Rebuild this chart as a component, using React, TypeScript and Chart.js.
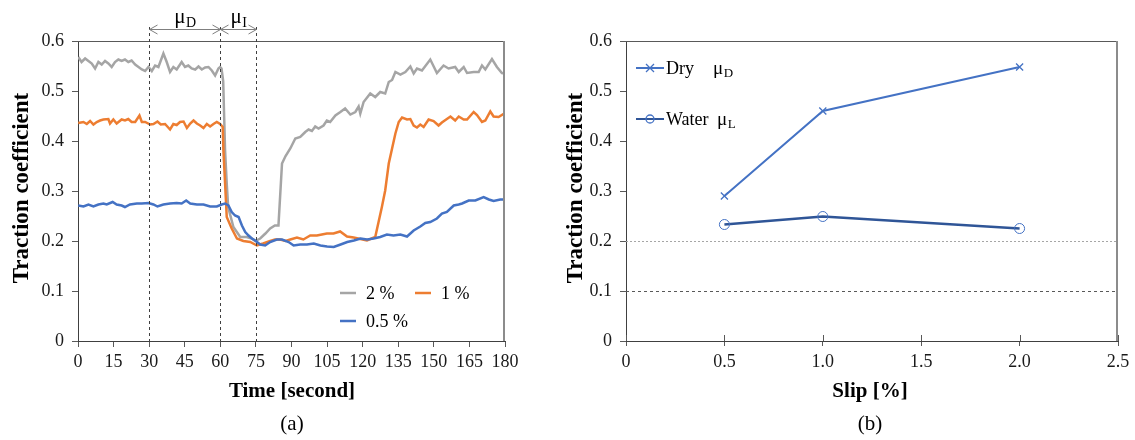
import React, { useEffect, useRef } from "react";
import { Chart, registerables } from "chart.js";
Chart.register(...registerables);

const FONT = '"Liberation Serif", "Times New Roman", serif';
const TXT = "#1a1a1a";

// ---- Panel (a): traction coefficient vs time ----
const TIME_2PCT = [
  0.1, 1.5, 3, 4.4, 5.8, 7.2, 8.6, 10, 11.4, 12.8, 14.2, 15.6, 17, 18.4, 19.8, 21.2, 22.6, 24.1, 25.5, 26.9,
  28.3, 29.7, 31.1, 32.5, 33.9, 36, 37.4, 38.8, 40.2, 41.6, 43.7, 45.1, 46.5, 47.9, 49.4, 50.8, 52.2, 53.6,
  55, 56.4, 57.8, 59.2, 59.9,
  60.5, 61.2, 62, 62.7, 63.3, 65.5, 68.4, 71, 73.3, 74.7, 76.8, 79, 81, 83, 84.5, 86, 87.5, 89.5, 91.6, 93.7,
  95.8, 97.2, 98.6, 100, 101.4, 103.5, 104.9, 106.3, 108.5, 110.6, 112.6, 114.8, 116.9, 118.3, 119, 120.4,
  123.2, 125.3, 127.4, 129.5, 131, 132.4, 133.8, 135.9, 138, 140.1, 141.5, 142.9, 145, 148.5, 151.3, 154.1,
  156.2, 159, 160.5, 162.6, 164, 166.8, 168.9, 170.3, 171.7, 174.5, 176.6, 178.7, 180,
];
const SLIP_2PCT = [
  0.568, 0.558, 0.565, 0.56, 0.555, 0.545, 0.558, 0.553, 0.56, 0.555, 0.548, 0.558, 0.563, 0.56, 0.563, 0.558,
  0.561, 0.553, 0.548, 0.543, 0.54, 0.548, 0.54, 0.551, 0.548, 0.575, 0.558, 0.538, 0.548, 0.543, 0.558, 0.548,
  0.551, 0.545, 0.543, 0.549, 0.543, 0.547, 0.548, 0.541, 0.531, 0.545, 0.548,
  0.545, 0.52, 0.381, 0.315, 0.268, 0.228, 0.208, 0.208, 0.205, 0.2, 0.205, 0.215, 0.225, 0.231, 0.231, 0.355,
  0.37, 0.385, 0.405, 0.408, 0.418, 0.423, 0.42, 0.429, 0.425, 0.431, 0.441, 0.438, 0.451, 0.458, 0.465, 0.453,
  0.458, 0.469, 0.455, 0.478, 0.495, 0.488, 0.498, 0.495, 0.518, 0.522, 0.538, 0.533, 0.538, 0.549, 0.535,
  0.545, 0.541, 0.563, 0.536, 0.551, 0.545, 0.548, 0.538, 0.548, 0.536, 0.538, 0.538, 0.551, 0.543, 0.564,
  0.548, 0.536, 0.535,
];

const TIME_1PCT = [
  0.1, 2.3, 3.7, 5.1, 6.5, 7.9, 9.3, 10.7, 12.8, 13.5, 14.9, 16.3, 18.4, 19.8, 21.2, 22.6, 24.1, 25.9, 26.9,
  28.3, 30.4, 31.8, 33.5, 34.9, 36.7, 38.8, 40.2, 41.6, 43, 44.5, 45.9, 47.3, 48.7, 50.1, 51.5, 52.9, 54.3,
  55.7, 57.1, 58.5, 59.9,
  61, 61.3, 62, 62.7, 64.8, 67, 69.7, 72.6, 75.4, 78, 81, 83, 85.2, 87.5, 89.5, 92.3, 95, 97.9, 100.7, 102.8,
  104.9, 107.7, 110.5, 113.4, 116.2, 119, 121.8, 125.3, 126.7, 128.1, 129.5, 131, 132.4, 133.8, 135.2, 136.6,
  138.7, 140.1, 141.5, 142.9, 144.3, 145.7, 147.8, 149.9, 152, 153.4, 155.5, 157, 159, 160.5, 162.6, 164,
  166.8, 168.2, 170.3, 171.7, 173.8, 175.2, 177.3, 180,
];
const SLIP_1PCT = [
  0.436, 0.438, 0.434, 0.44, 0.433, 0.438, 0.441, 0.443, 0.444, 0.435, 0.443, 0.435, 0.443, 0.441, 0.444,
  0.438, 0.438, 0.451, 0.438, 0.438, 0.433, 0.434, 0.439, 0.433, 0.434, 0.423, 0.434, 0.432, 0.438, 0.439,
  0.426, 0.435, 0.441, 0.435, 0.431, 0.426, 0.434, 0.429, 0.434, 0.438, 0.434,
  0.428, 0.381, 0.315, 0.248, 0.225, 0.205, 0.2, 0.198, 0.191, 0.195, 0.2, 0.203, 0.203, 0.2, 0.203, 0.207,
  0.203, 0.211, 0.211, 0.213, 0.215, 0.215, 0.219, 0.209, 0.207, 0.204, 0.201, 0.208, 0.238, 0.268, 0.301,
  0.355, 0.385, 0.415, 0.438, 0.447, 0.443, 0.444, 0.431, 0.427, 0.433, 0.428, 0.443, 0.44, 0.431, 0.437,
  0.444, 0.449, 0.441, 0.449, 0.443, 0.443, 0.458, 0.452, 0.438, 0.441, 0.459, 0.449, 0.448, 0.456,
];

const TIME_05PCT = [
  0.1, 2.3, 4.4, 6.5, 8.6, 10.7, 12.1, 14.6, 16.3, 18.4, 19.8, 21.9, 24.8, 26.9, 29.7, 31.8, 33.5, 36, 38.8,
  41.6, 43.7, 45.6, 47.3, 50.1, 52.9, 55.7, 58.5, 60.6,
  62, 63.4, 64.8, 66.2, 67.7, 69.1, 70.5, 71.9, 73.3, 74.7, 76.8, 78.9, 81, 83.8, 86, 88.8, 90.9, 93.7, 96.5,
  99.4, 102.2, 105, 107.8, 110.7, 113.5, 116.3, 119.1, 121.9, 124.6, 127.4, 130.2, 133, 135.9, 138.7, 141.5,
  144.3, 146.4, 148.5, 151.3, 153.4, 155.5, 158.4, 160.5, 161.9, 164.7, 167.5, 171, 173.2, 175.2, 178, 180,
];
const SLIP_05PCT = [
  0.271, 0.269, 0.273, 0.269, 0.273, 0.275, 0.273, 0.278, 0.273, 0.271, 0.268, 0.273, 0.275, 0.275, 0.276,
  0.273, 0.269, 0.273, 0.275, 0.276, 0.275, 0.281, 0.275, 0.273, 0.273, 0.269, 0.269, 0.273,
  0.275, 0.271, 0.258, 0.251, 0.248, 0.231, 0.218, 0.211, 0.205, 0.201, 0.193, 0.191, 0.198, 0.203, 0.203,
  0.198, 0.191, 0.193, 0.193, 0.195, 0.191, 0.189, 0.188, 0.193, 0.198, 0.201, 0.205, 0.203, 0.205, 0.208,
  0.213, 0.211, 0.213, 0.209, 0.221, 0.229, 0.236, 0.238, 0.245, 0.255, 0.258, 0.271, 0.273, 0.275, 0.281,
  0.281, 0.288, 0.283, 0.28, 0.283, 0.283,
];

const PHASE_MARKS = [30, 60, 75];
const LEGEND_A = ["2 %", "1 %", "0.5 %"];
const COLORS_A = ["#A5A5A5", "#ED7D31", "#4472C4"];

// ---- Panel (b): traction coefficient vs slip ----
const SLIP_PCT = [0.5, 1, 2];
const DRY = [0.29, 0.46, 0.548];
const WATER = [0.233, 0.249, 0.225];

const pts = (xs: number[], ys: number[]) => xs.map((x, i) => ({ x, y: ys[i] }));

function seg(ctx: CanvasRenderingContext2D, x1: number, y1: number, x2: number, y2: number) {
  ctx.beginPath();
  ctx.moveTo(x1, y1);
  ctx.lineTo(x2, y2);
  ctx.stroke();
}

function muLabel(ctx: CanvasRenderingContext2D, sub: string, x: number, y: number, size: number, align: "left" | "center") {
  ctx.font = `${size}px ${FONT}`;
  const w1 = ctx.measureText("μ").width;
  ctx.font = `${Math.round(size * 0.68)}px ${FONT}`;
  const w2 = ctx.measureText(sub).width;
  const start = align === "center" ? x - (w1 + w2) / 2 : x;
  ctx.textAlign = "left";
  ctx.textBaseline = "alphabetic";
  ctx.font = `${size}px ${FONT}`;
  ctx.fillText("μ", start, y);
  ctx.font = `${Math.round(size * 0.68)}px ${FONT}`;
  ctx.fillText(sub, start + w1 + 0.5, y + size * 0.18);
}

function frame(ctx: CanvasRenderingContext2D, a: any) {
  ctx.setLineDash([]);
  ctx.strokeStyle = "#595959";
  ctx.lineWidth = 1;
  seg(ctx, a.left, Math.round(a.top) + 0.5, a.right, Math.round(a.top) + 0.5);
  ctx.strokeStyle = "#8c8c8c";
  ctx.lineWidth = 2;
  seg(ctx, a.right - 1, a.top, a.right - 1, a.bottom);
}

function titles(ctx: CanvasRenderingContext2D, yTitle: string, yX: number, xTitle: string, xCenter: number, tag: string) {
  ctx.fillStyle = "#000";
  ctx.textAlign = "center";
  ctx.textBaseline = "middle";
  ctx.font = `bold 23px ${FONT}`;
  ctx.save();
  ctx.translate(yX, 188);
  ctx.rotate(-Math.PI / 2);
  ctx.fillText(yTitle, 0, 0);
  ctx.restore();
  ctx.font = `bold 21px ${FONT}`;
  ctx.fillText(xTitle, xCenter, 392);
  ctx.font = `21px ${FONT}`;
  ctx.fillText(tag, xCenter, 424);
}

const decorA = {
  id: "decorA",
  afterDraw(chart: any) {
    const { ctx, chartArea: a, scales } = chart;
    const x = scales.x;
    ctx.save();
    frame(ctx, a);
    // phase lines
    ctx.strokeStyle = "#404040";
    ctx.lineWidth = 1;
    ctx.setLineDash([3, 3]);
    const px = PHASE_MARKS.map((t) => Math.round(x.getPixelForValue(t)) + 0.5);
    px.forEach((p) => seg(ctx, p, 27, p, a.bottom));
    ctx.setLineDash([]);
    // double arrows
    ctx.strokeStyle = "#7f7f7f";
    const ay = 29.5;
    const arrow = (x1: number, x2: number) => {
      seg(ctx, x1, ay, x2, ay);
      seg(ctx, x1 + 8, ay - 4.5, x1, ay);
      seg(ctx, x1, ay, x1 + 8, ay + 4.5);
      seg(ctx, x2 - 8, ay - 4.5, x2, ay);
      seg(ctx, x2, ay, x2 - 8, ay + 4.5);
    };
    arrow(px[0], px[1]);
    arrow(px[1], px[2]);
    ctx.fillStyle = "#000";
    muLabel(ctx, "D", (px[0] + px[1]) / 2, 23, 21, "center");
    muLabel(ctx, "I", (px[1] + px[2]) / 2, 23, 21, "center");
    // legend
    const items = [
      { x: 340, y: 293, i: 0 },
      { x: 415, y: 293, i: 1 },
      { x: 340, y: 321, i: 2 },
    ];
    ctx.font = `18px ${FONT}`;
    ctx.textAlign = "left";
    ctx.textBaseline = "middle";
    items.forEach(({ x: lx, y: ly, i }) => {
      ctx.strokeStyle = COLORS_A[i];
      ctx.lineWidth = 2.5;
      seg(ctx, lx, ly, lx + 16, ly);
      ctx.fillStyle = "#000";
      ctx.fillText(LEGEND_A[i], lx + 26, ly + 1);
    });
    titles(ctx, "Traction coefficient", 22, "Time [second]", 292, "(a)");
    ctx.restore();
  },
};

const decorB = {
  id: "decorB",
  beforeDatasetsDraw(chart: any) {
    const { ctx, chartArea: a, scales } = chart;
    const y = scales.y;
    ctx.save();
    ctx.lineWidth = 1;
    ctx.strokeStyle = "#a6a6a6";
    ctx.setLineDash([2, 2]);
    const y2 = Math.round(y.getPixelForValue(0.2)) + 0.5;
    seg(ctx, a.left, y2, a.right, y2);
    ctx.strokeStyle = "#595959";
    ctx.setLineDash([3, 3]);
    const y1 = Math.round(y.getPixelForValue(0.1)) + 0.5;
    seg(ctx, a.left, y1, a.right, y1);
    ctx.restore();
  },
  afterDraw(chart: any) {
    const { ctx, chartArea: a, scales } = chart;
    const x = scales.x;
    ctx.save();
    frame(ctx, a);
    // inner tick halves on x axis
    ctx.strokeStyle = "#595959";
    ctx.lineWidth = 1;
    x.ticks.forEach((t: any) => {
      const p = Math.round(x.getPixelForValue(t.value)) + 0.5;
      seg(ctx, p, a.bottom, p, a.bottom - 6);
    });
    // legend
    const lx = 636;
    const entries = [
      { y: 68, label: "Dry", sub: "D", color: "#4472C4", mu: 713, marker: "x" },
      { y: 119, label: "Water", sub: "L", color: "#2F5597", mu: 717, marker: "o" },
    ];
    entries.forEach((e) => {
      const ox = lx - 560;
      ctx.strokeStyle = e.color;
      ctx.lineWidth = 2;
      seg(ctx, ox, e.y, ox + 28, e.y);
      const cx = ox + 14;
      ctx.lineWidth = 1.3;
      ctx.strokeStyle = "#4472C4";
      if (e.marker === "x") {
        seg(ctx, cx - 4, e.y - 4, cx + 4, e.y + 4);
        seg(ctx, cx - 4, e.y + 4, cx + 4, e.y - 4);
      } else {
        ctx.beginPath();
        ctx.arc(cx, e.y, 4, 0, Math.PI * 2);
        ctx.stroke();
      }
      ctx.fillStyle = "#000";
      ctx.font = `18px ${FONT}`;
      ctx.textAlign = "left";
      ctx.textBaseline = "alphabetic";
      ctx.fillText(e.label, ox + 30, e.y + 6);
      muLabel(ctx, e.sub, e.mu - 560, e.y + 6, 19, "left");
    });
    titles(ctx, "Traction coefficient", 16, "Slip [%]", 310, "(b)");
    ctx.restore();
  },
};

function axisOpts(min: number, max: number, step: number, fit: (s: any) => void, tickLen: number, pad: number) {
  return {
    type: "linear" as const,
    min,
    max,
    afterFit: fit,
    ticks: {
      stepSize: step,
      autoSkip: false,
      maxRotation: 0,
      padding: pad,
      color: TXT,
      font: { family: FONT, size: 18 },
    },
    grid: { display: true, drawOnChartArea: false, drawTicks: true, tickLength: tickLen, color: "#595959" },
    border: { display: true, color: "#404040", width: 1 },
    title: { display: false },
  };
}

export default function App() {
  const refA = useRef<HTMLCanvasElement>(null);
  const refB = useRef<HTMLCanvasElement>(null);

  useEffect(() => {
    const ca = new Chart(refA.current!, {
      type: "line",
      data: {
        datasets: [
          { data: pts(TIME_05PCT, SLIP_05PCT), borderColor: COLORS_A[2] },
          { data: pts(TIME_1PCT, SLIP_1PCT), borderColor: COLORS_A[1] },
          { data: pts(TIME_2PCT, SLIP_2PCT), borderColor: COLORS_A[0] },
        ].map((d) => ({ ...d, borderWidth: 2.5, pointRadius: 0, tension: 0, fill: false })),
      },
      options: {
        responsive: false,
        animation: false,
        devicePixelRatio: 1,
        layout: { padding: { top: 41, right: 55, left: 0, bottom: 0 } },
        plugins: { legend: { display: false }, tooltip: { enabled: false } },
        scales: {
          x: axisOpts(0, 180, 15, (s: any) => { s.height = 99; }, 6, 4),
          y: axisOpts(0, 0.6, 0.1, (s: any) => { s.width = 78; }, 6, 8),
        },
      },
      plugins: [decorA],
    } as any);

    const cb = new Chart(refB.current!, {
      type: "line",
      data: {
        datasets: [
          {
            data: pts(SLIP_PCT, DRY),
            borderColor: "#4472C4",
            borderWidth: 2,
            pointStyle: "crossRot",
            pointRadius: 5,
            pointBorderWidth: 1.3,
            pointBorderColor: "#4472C4",
            pointBackgroundColor: "#4472C4",
          },
          {
            data: pts(SLIP_PCT, WATER),
            borderColor: "#2F5597",
            borderWidth: 2.5,
            pointStyle: "circle",
            pointRadius: 5,
            pointBorderWidth: 1,
            pointBorderColor: "#4472C4",
            pointBackgroundColor: "rgba(0,0,0,0)",
          },
        ].map((d) => ({ ...d, tension: 0, fill: false })),
      },
      options: {
        responsive: false,
        animation: false,
        devicePixelRatio: 1,
        layout: { padding: { top: 41, right: 17, left: 0, bottom: 0 } },
        plugins: { legend: { display: false }, tooltip: { enabled: false } },
        scales: {
          x: axisOpts(0, 2.5, 0.5, (s: any) => { s.height = 99; }, 5, 5),
          y: axisOpts(0, 0.6, 0.1, (s: any) => { s.width = 66; }, 6, 8),
        },
      },
      plugins: [decorB],
    } as any);

    return () => {
      ca.destroy();
      cb.destroy();
    };
  }, []);

  return (
    <div style={{ position: "fixed", left: 0, top: 0, width: 1135, height: 440, background: "#fff" }}>
      <canvas ref={refA} width={560} height={440} style={{ position: "absolute", left: 0, top: 0, width: 560, height: 440 }} />
      <canvas ref={refB} width={575} height={440} style={{ position: "absolute", left: 560, top: 0, width: 575, height: 440 }} />
    </div>
  );
}
